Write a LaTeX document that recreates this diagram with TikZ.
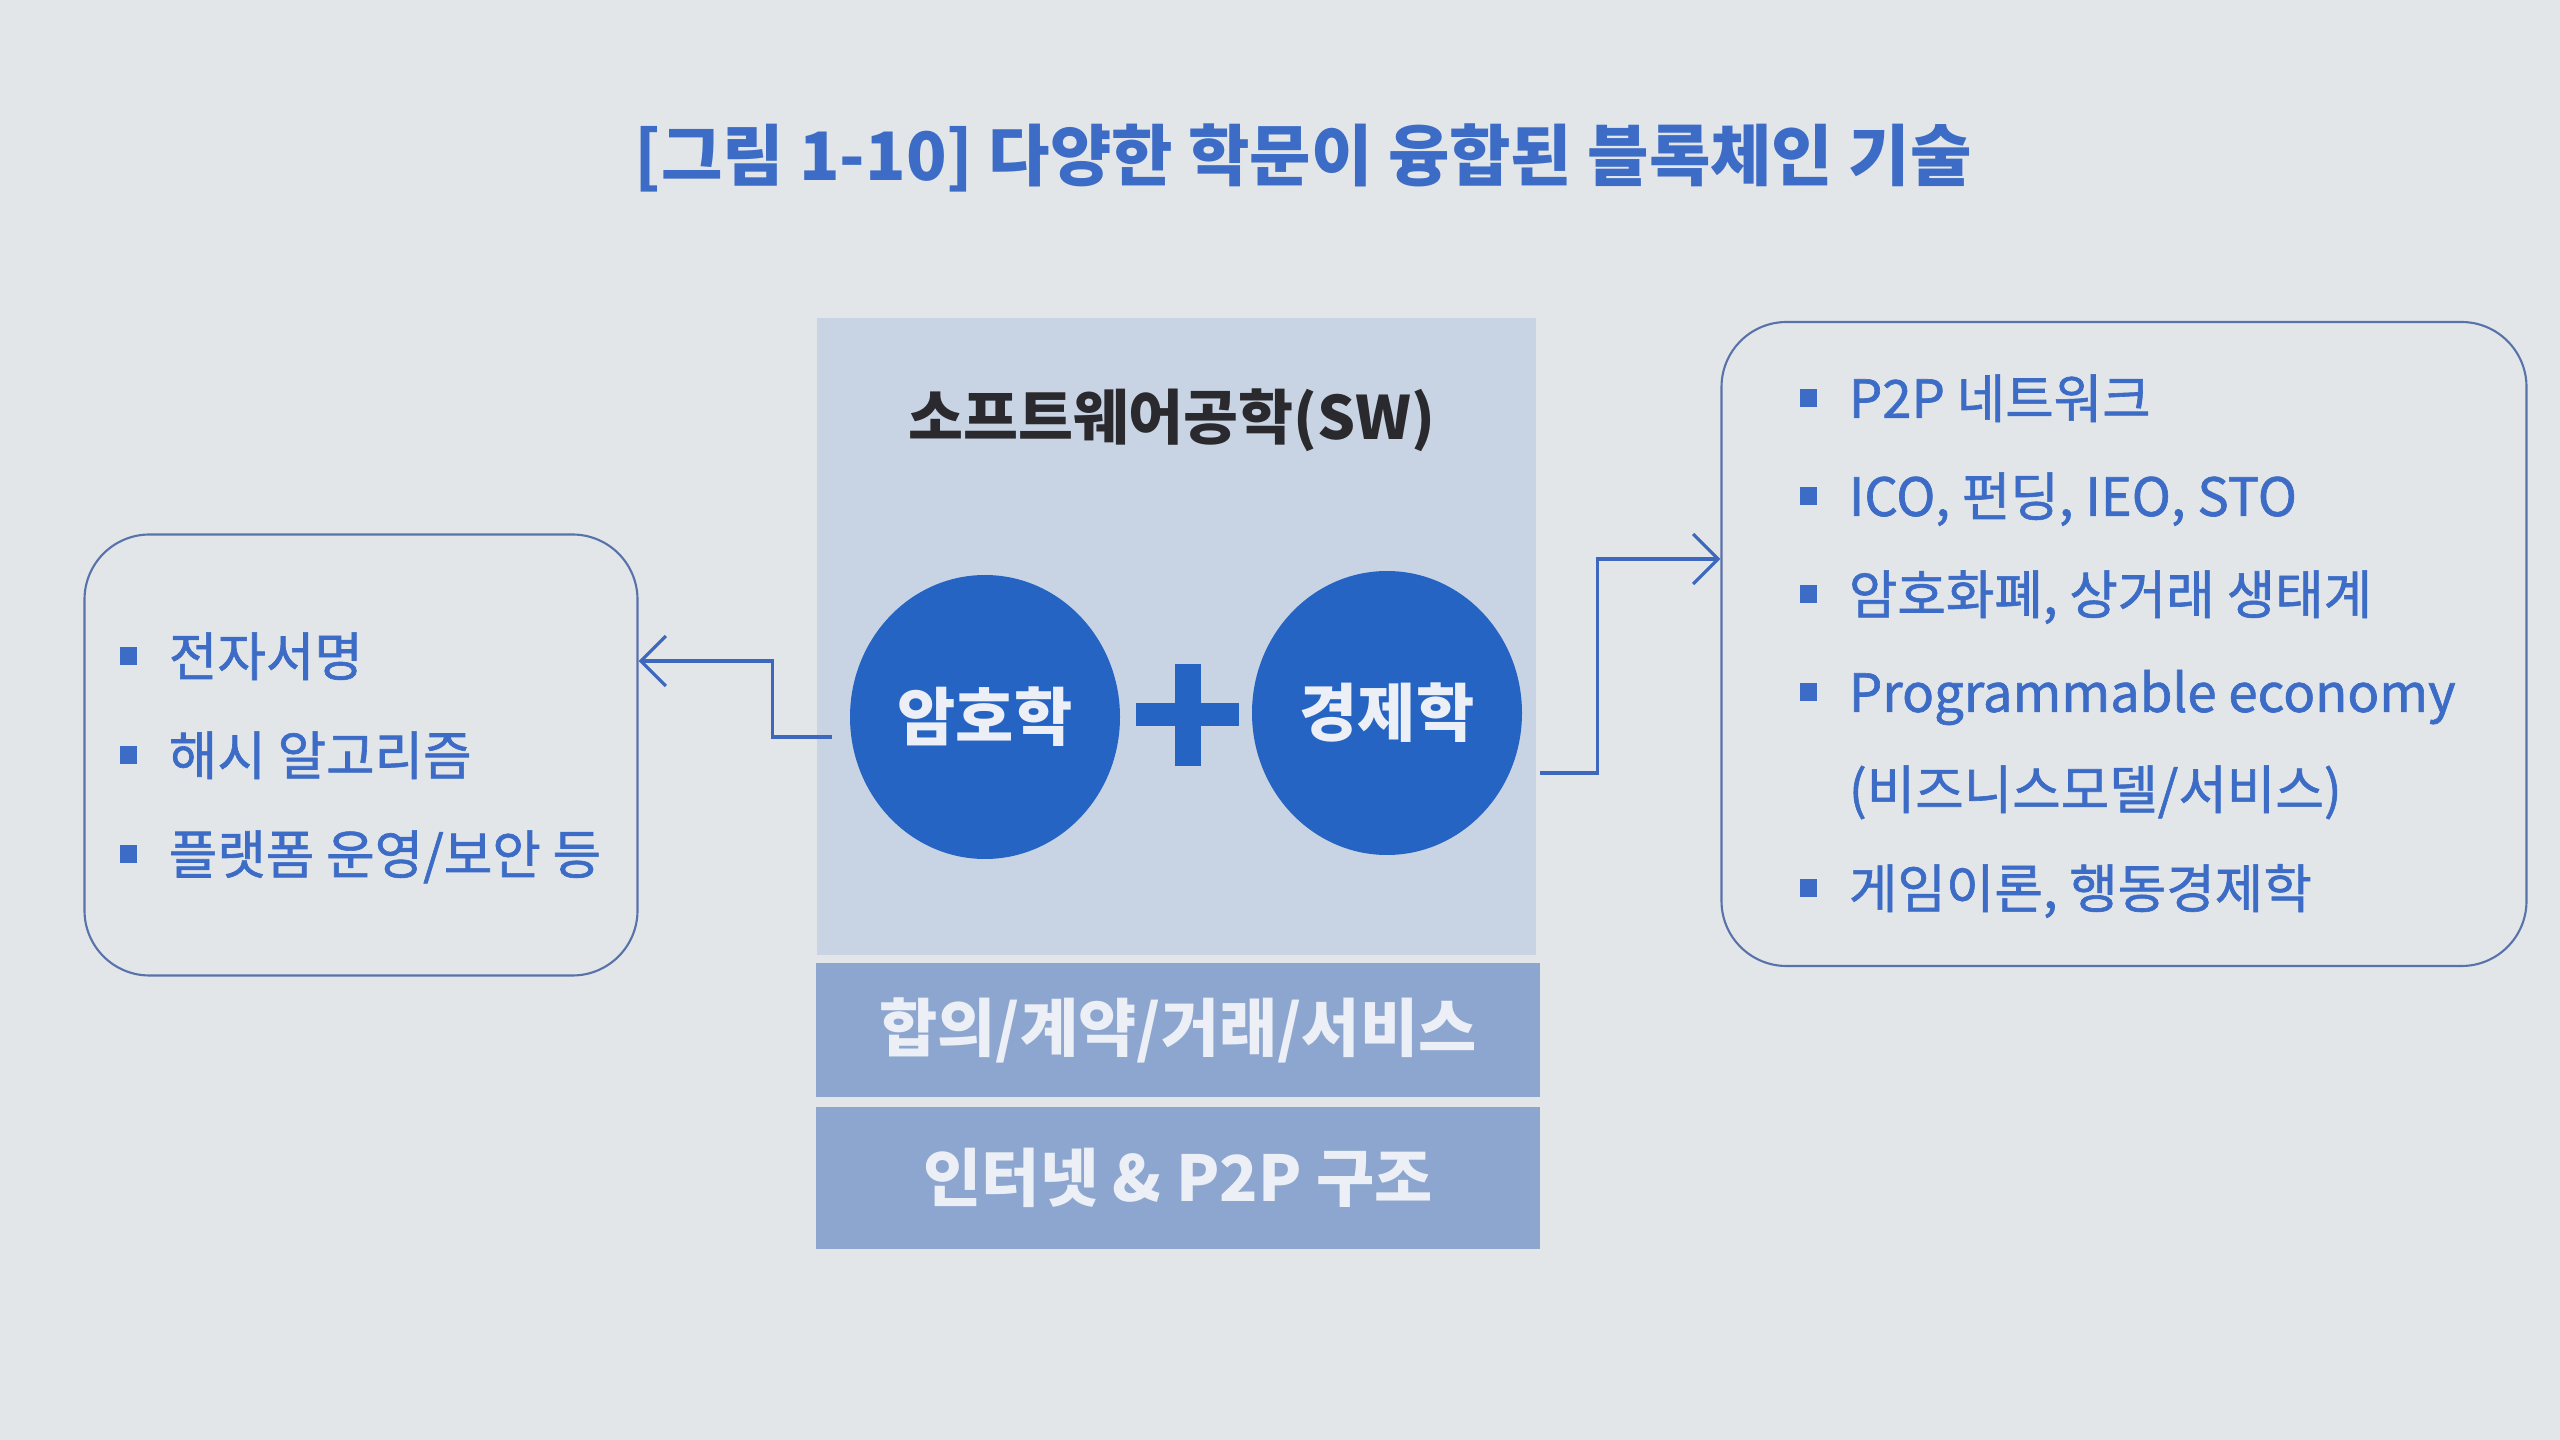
\documentclass[tikz,border=0pt]{standalone}
\usepackage{fontspec}
\setmainfont{Noto Sans CJK KR}
\newfontfamily\itemfont{Noto Sans CJK KR}[FakeBold=1.2]
\usetikzlibrary{positioning,shapes.geometric,arrows.meta}

\definecolor{pagebg}{RGB}{226,230,233}
\definecolor{panelblue}{RGB}{200,212,228}
\definecolor{bandblue}{RGB}{140,166,207}
\definecolor{bandtext}{RGB}{236,240,246}
\definecolor{discblue}{RGB}{38,100,196}
\definecolor{txtblue}{RGB}{60,108,198}
\definecolor{linkblue}{RGB}{62,104,190}
\definecolor{boxline}{RGB}{88,114,170}
\definecolor{swtext}{RGB}{42,42,46}

\newcommand{\sqbullet}{\textcolor{txtblue}{\rule[3.2pt]{5pt}{5pt}}\hspace{9pt}}

\begin{document}
\begin{tikzpicture}[x=0.1mm, y=-0.1mm, >={Straight Barb[length=2.5mm,width=5mm]},
  panel/.style={fill=panelblue, inner sep=0pt},
  band/.style={fill=bandblue, inner sep=0pt, minimum width=72.4mm, text=bandtext,
    font=\fontsize{18}{22}\selectfont\bfseries},
  disc/.style={ellipse, fill=discblue, inner sep=0pt, minimum width=27mm,
    minimum height=28.4mm, text=bandtext, font=\fontsize{18}{22}\selectfont\bfseries},
  listbox/.style={draw=boxline, line width=0.6pt, rounded corners=6.5mm, inner sep=0pt},
  item/.style={anchor=west, inner sep=0pt, text=txtblue, text height=1.1em, text depth=0.25em,
    font=\itemfont\fontsize{15}{18}\selectfont},
  arr/.style={->, draw=linkblue, line width=0.9pt}]

% page
\fill[pagebg] (0,0) rectangle (2560,1440);
\useasboundingbox (0,0) rectangle (2560,1440);

\node[text=txtblue, font=\fontsize{19}{23}\selectfont\bfseries] (title) at (1303,158)
  {[그림 1-10] 다양한 학문이 융합된 블록체인 기술};

% centre column
\node[panel, minimum width=71.9mm, minimum height=63.7mm] (swpanel) at (1176,637) {};
\node[text=swtext, font=\fontsize{17}{21}\selectfont\bfseries] (swlabel) at (1172,420)
  {소프트웨어공학(SW)};
\node[disc] (crypto) at (985,717) {암호학};
\node[disc] (econ) at (1387,713) {경제학};
\fill[discblue] (1175,664) rectangle (1201,766);
\fill[discblue] (1136,703) rectangle (1239,726);
\node[band, minimum height=13.4mm] (deal) at (1178,1030) {합의/계약/거래/서비스};
\node[band, minimum height=14.2mm] (net) at (1178,1178) {인터넷 \& P2P 구조};

% left list
\node[listbox, minimum width=55.3mm, minimum height=44.1mm] (lbox) at (361,755) {};
\node[item] (l1) at (119,661) {\sqbullet 전자서명};
\node[item, below=9.9mm of l1.west, anchor=west] (l2) {\sqbullet 해시 알고리즘};
\node[item, below=9.9mm of l2.west, anchor=west] (l3) {\sqbullet 플랫폼 운영/보안 등};

% right list
\node[listbox, minimum width=80.5mm, minimum height=64.4mm] (rbox) at (2124,644) {};
\node[item] (r1) at (1799,403) {\sqbullet P2P 네트워크};
\node[item, below=9.8mm of r1.west, anchor=west] (r2) {\sqbullet ICO, 펀딩, IEO, STO};
\node[item, below=9.8mm of r2.west, anchor=west] (r3) {\sqbullet 암호화폐, 상거래 생태계};
\node[item, below=9.8mm of r3.west, anchor=west] (r4) {\sqbullet Programmable economy};
\node[item, below=9.7mm of r4.west, anchor=west, xshift=14pt] (r5) {(비즈니스모델/서비스)};
\node[item, below=9.8mm of r4.west, anchor=west, yshift=-9.8mm] (r6) {\sqbullet 게임이론, 행동경제학};

% links
\coordinate (cl) at ([xshift=-1.7mm,yshift=-2mm]crypto.west);
\coordinate (cr) at ([xshift=1.7mm,yshift=-6mm]econ.east);
\draw[arr] (cl) -- ++(-60,0) |- (lbox.east |- l1.west);
\draw[arr] (cr) -- ++(58,0) |- ([yshift=8.5mm]rbox.west);
\end{tikzpicture}
\end{document}
